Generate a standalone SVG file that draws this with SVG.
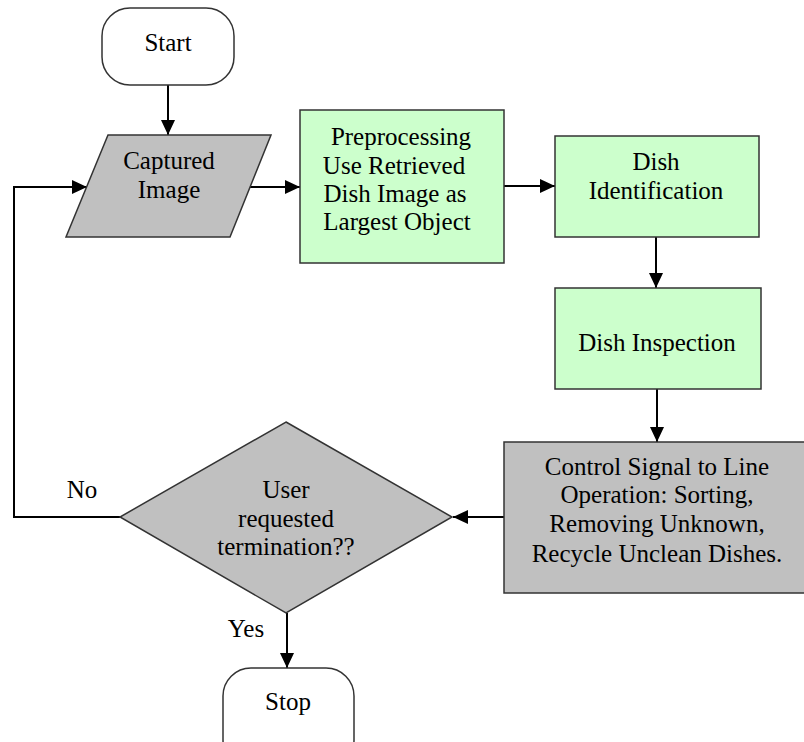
<svg xmlns="http://www.w3.org/2000/svg" width="804" height="742" viewBox="0 0 804 742">
<defs>
<marker id="ah" markerUnits="userSpaceOnUse" markerWidth="16" markerHeight="14" refX="15" refY="7" orient="auto">
<path d="M0,0 L15,7 L0,14 Z" fill="#000"/>
</marker>
<style>
.n{stroke:#333;stroke-width:1.5}
.g{fill:#ccffcc}
.gr{fill:#c0c0c0}
.w{fill:#fff}
text{font-size:25px;fill:#000;text-anchor:middle}
.c{fill:none;stroke:#000;stroke-width:2}
</style>
</defs>
<rect width="804" height="742" fill="#fff"/>
<g font-family="Liberation Serif, Times New Roman, DejaVu Serif, serif">
<g id="connectors">
<path class="c" d="M168,85 V135" marker-end="url(#ah)"/>
<path class="c" d="M250,187 H300" marker-end="url(#ah)"/>
<path class="c" d="M504,186 H555" marker-end="url(#ah)"/>
<path class="c" d="M656,237 V288" marker-end="url(#ah)"/>
<path class="c" d="M657,389 V442" marker-end="url(#ah)"/>
<path class="c" d="M504,517 H453" marker-end="url(#ah)"/>
<path class="c" d="M120,517 H14 V187 H87" marker-end="url(#ah)"/>
<path class="c" d="M287,613 V668" marker-end="url(#ah)"/>
<text x="82" y="498">No</text>
<text x="246" y="637">Yes</text>
</g>
<g id="start">
<rect class="n w" x="102" y="8" width="132" height="77" rx="28" ry="28"/>
<text x="168" y="51">Start</text>
</g>
<g id="captured">
<polygon class="n gr" points="108,135 271,135 230,237 66,237"/>
<text x="169" y="169">Captured</text>
<text x="169" y="198">Image</text>
</g>
<g id="preprocessing">
<rect class="n g" x="300" y="110" width="204" height="153"/>
<text x="401" y="145">Preprocessing</text>
<text x="394" y="174">Use Retrieved</text>
<text x="395" y="202">Dish Image as</text>
<text x="397" y="230">Largest Object</text>
</g>
<g id="identification">
<rect class="n g" x="555" y="136" width="204" height="101"/>
<text x="656" y="170">Dish</text>
<text x="656" y="199">Identification</text>
</g>
<g id="inspection">
<rect class="n g" x="555" y="288" width="206" height="101"/>
<text x="657" y="351">Dish Inspection</text>
</g>
<g id="control">
<rect class="n gr" x="504" y="442" width="302" height="151"/>
<text x="657" y="475">Control Signal to Line</text>
<text x="657" y="503">Operation: Sorting,</text>
<text x="657" y="532">Removing Unknown,</text>
<text x="657" y="562">Recycle Unclean Dishes.</text>
</g>
<g id="decision">
<polygon class="n gr" points="286,422 452,517 286,613 120,517"/>
<text x="286" y="498">User</text>
<text x="286" y="527">requested</text>
<text x="286" y="555">termination??</text>
</g>
<g id="stop">
<rect class="n w" x="223" y="668" width="131" height="100" rx="28" ry="28"/>
<text x="288" y="710">Stop</text>
</g>
</g>
</svg>
